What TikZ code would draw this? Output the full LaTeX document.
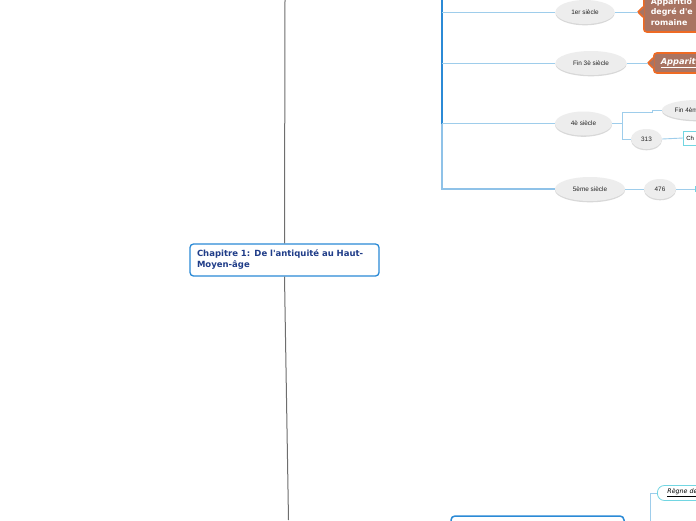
\documentclass[tikz,border=0pt]{standalone}
\usepackage{fontspec}
\setmainfont{DejaVu Sans}[Ligatures=TeXOff]
\newfontfamily\elfont{Liberation Sans}
\usetikzlibrary{shapes.geometric,shadows}
\definecolor{trunkgray}{HTML}{6E6E6E}
\definecolor{mainblue}{HTML}{2B8AD6}
\definecolor{spinelt}{HTML}{8FC2E8}
\definecolor{lblue}{HTML}{9ECDEB}
\definecolor{titleblue}{HTML}{1F3C88}
\definecolor{brownfill}{HTML}{A97462}
\definecolor{orangeb}{HTML}{EE6A24}
\definecolor{cyanb}{HTML}{72D6E2}
\definecolor{elfill}{HTML}{EDEDED}
\tikzset{
  trunk/.style={draw=trunkgray, line width=1pt},
  spine/.style={draw=mainblue, line width=2pt},
  spinelight/.style={draw=spinelt, line width=1.3pt},
  branch/.style={draw=lblue, line width=0.9pt},
  era/.style={ellipse, fill=elfill, inner sep=0pt, minimum height=24pt, text=black!85,
    font=\elfont\fontsize{6.4}{7}\selectfont,
    drop shadow={shadow xshift=0pt, shadow yshift=-1.3pt, opacity=0.25, fill=black!60}},
  smallera/.style={era, minimum height=20pt},
  central/.style={draw=mainblue, line width=1.3pt, fill=white, rounded corners=3.5pt,
    minimum width=189pt, minimum height=32pt, text width=175pt, align=left,
    inner xsep=7pt, text=titleblue, font=\bfseries\fontsize{8.5}{11}\selectfont},
  callout/.style={draw=orangeb, line width=1.6pt, fill=brownfill, rounded corners=3pt,
    text=white, align=left, anchor=west, inner xsep=7pt,
    font=\bfseries\fontsize{7.9}{10.5}\selectfont},
  notch/.style={draw=orangeb, line width=1.6pt, line join=round},
  subtopic/.style={draw=cyanb, line width=0.8pt, fill=white, anchor=west,
    minimum height=14pt, align=left, inner xsep=3pt, font=\elfont\fontsize{6}{7}\selectfont},
  bigbox/.style={draw=mainblue, line width=1.5pt, fill=white, rounded corners=4pt,
    minimum width=173pt, minimum height=48pt}
}
\begin{document}
\begin{tikzpicture}[x=1pt,y=-1pt]
\useasboundingbox (0,0) rectangle (696,520);
\clip (0,0) rectangle (696,520);
\fill[white] (0,0) rectangle (696,520);

% trunk and root
\coordinate (trunktop) at (285,0);
\coordinate (trunkbot) at (288.5,520);
\node[central] (root) at (284.5,260) {Chapitre 1: De l'antiquité au Haut-\\Moyen-âge};
\draw[trunk] (trunktop) -- (root.north);
\draw[trunk] (root.south) -- (trunkbot);

% era ellipses
\node[era, minimum width=59pt] (e1) at (585,12) {1er siècle};
\node[era, minimum width=71pt] (e2) at (591,63) {Fin 3è siècle};
\node[era, minimum width=57pt] (e4) at (583.5,123.5) {4è siècle};
\node[era, minimum width=70pt] (e5) at (590,189) {5ème siècle};
\node[smallera, minimum width=70pt] (e4a) at (697,110) {Fin 4ème siècle};
\node[smallera, minimum width=31pt] (e313) at (646.5,139) {313};
\node[smallera, minimum width=32pt] (e476) at (660,189) {476};

% spine
\coordinate (spinetop) at (442,0);
\draw[spine] (spinetop) -- (spinetop |- e4.west);
\draw[spinelight] (spinetop |- e4.west) -- (spinetop |- e5.west) -- (e5.west);
\draw[branch] (spinetop |- e1.west) -- (e1.west);
\draw[branch] (spinetop |- e2.west) -- (e2.west);
\draw[branch] (spinetop |- e4.west) -- (e4.west);

% callouts
\node[callout, minimum height=40pt, text width=80pt] (c1) at (643,12) {Apparitio\\degré d'e\\romaine};
\fill[brownfill] (c1.west) ++(1,-5) -- ++(-6,5) -- ++(6,5) -- cycle;
\draw[notch] (c1.west) ++(0,-5) -- ++(-5,5) -- ++(5,5);
\draw[branch] (e1.east) -- ([xshift=-5pt]c1.west);

\node[callout, minimum height=20pt, text width=60pt, font=\bfseries\itshape\fontsize{8.3}{10}\selectfont] (c2) at (653,63) {\underline{Appariti}};
\fill[brownfill] (c2.west) ++(1,-5) -- ++(-6,5) -- ++(6,5) -- cycle;
\draw[notch] (c2.west) ++(0,-5) -- ++(-5,5) -- ++(5,5);
\draw[branch] (e2.east) -- ([xshift=-5pt]c2.west);

% 4e siecle sub-branches
\coordinate (fork4) at (622,123.5);
\draw[branch] (e4.east) -- (fork4);
\draw[branch] (fork4) -- (fork4 |- e313.west) -- (e313.west);
\draw[branch] (fork4) -- (622,112) -- (652,112) -- (652,110) -- (e4a.west);
\node[subtopic, text width=30pt] (ch) at (683,138) {Ch};
\draw[branch] (e313.east) -- (ch.west);

% 5e siecle
\draw[branch] (e5.east) -- (e476.west);
\coordinate (edge476) at (697,189);
\draw[branch] (e476.east) -- (edge476);
\fill[cyanb] (695,186) rectangle (697,192);

% bottom
\node[bigbox] (bot) at (537.5,540) {};
\node[subtopic, rounded corners=7pt, inner xsep=10pt, text width=50pt,
  font=\itshape\fontsize{6.3}{7}\selectfont] (regne) at (657,493) {\underline{Règne de}};
\coordinate (regnefoot) at (650,521);
\draw[branch] (regnefoot) -- (regnefoot |- regne.west) -- (regne.west);
\end{tikzpicture}
\end{document}
